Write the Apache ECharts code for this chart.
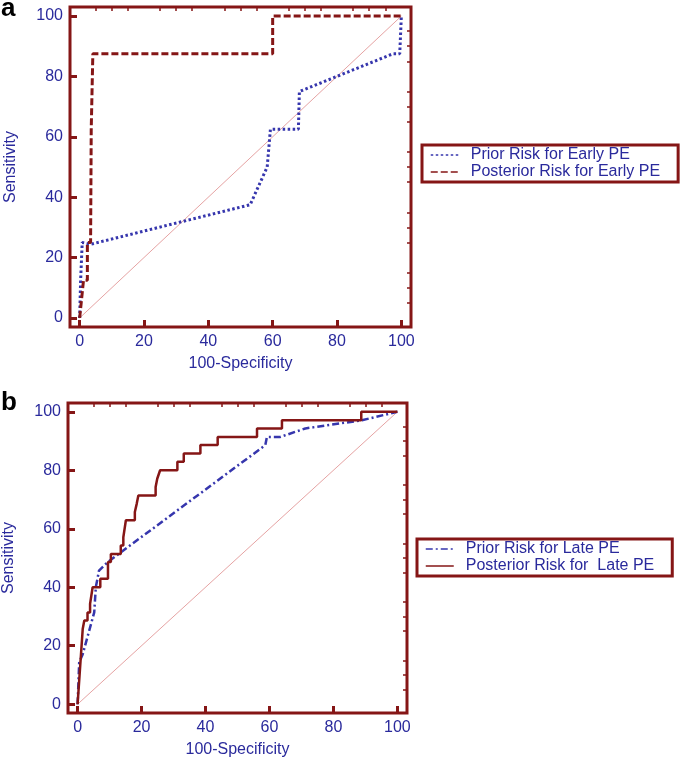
<!DOCTYPE html>
<html>
<head>
<meta charset="utf-8">
<script src="https://cdn.jsdelivr.net/npm/echarts@6/dist/echarts.min.js"></script>
<style>
  html, body { margin: 0; padding: 0; background: #fff; }
  #chart { width: 685px; height: 759px; }
</style>
</head>
<body>
<div id="chart"></div>
<script>
// ROC curves: [100-Specificity, Sensitivity]
const majorTicks = [0, 20, 40, 60, 80, 100];
const minorTicks = [5, 10, 15, 25, 30, 35, 45, 50, 55, 65, 70, 75, 85, 90, 95];
const diagonal = [[0, 0], [100, 100]];

const priorEarly = [[0, 0], [0.3, 12.5], [0.8, 25], [3.4, 24.4], [53, 37.5], [58.3, 50], [58.8, 50],
  [59.3, 62.5], [68, 62.5], [68.3, 75], [97.4, 87.5], [99.5, 87.5], [100, 100]];
const posteriorEarly = [[0, 0], [1.2, 12.5], [2.4, 12.5], [2.4, 25], [3.4, 25], [3.6, 62.5], [4.1, 87.5],
  [60, 87.5], [60, 100], [100, 100]];

const priorLate = [[0, 0], [0.5, 14.3], [1.6, 17.1], [5.2, 31.4], [5.7, 40], [6.7, 45.7], [9.4, 48.6],
  [58.7, 88.6], [59.2, 91.4], [63.4, 91.4], [71.2, 94.3], [88.9, 97.1], [100, 100]];
const posteriorLate = [[0, 0], [1.6, 25.7], [2.1, 25.7], [2.1, 28.6], [3.1, 28.6], [3.1, 31.4], [3.9, 31.4],
  [3.9, 34.3], [4.7, 40], [7.1, 40], [7.1, 42.9], [9.5, 42.9], [9.5, 48.6], [10.4, 48.6], [10.4, 51.4],
  [13.5, 51.4], [13.5, 54.3], [14.3, 54.3], [14.3, 57.1], [15.1, 62.9], [17.9, 62.9], [17.9, 65.7],
  [18.5, 65.7], [18.5, 68.6], [19, 71.4], [24.4, 71.4], [24.4, 74.3], [24.9, 74.3], [24.9, 77.1],
  [25.8, 80], [31.2, 80], [31.2, 82.9], [33.2, 82.9], [33.2, 85.7], [38.4, 85.7], [38.4, 88.6],
  [43.8, 88.6], [43.8, 91.4], [56.1, 91.4], [56.1, 94.3], [63.9, 94.3], [63.9, 97.1], [88.7, 97.1],
  [88.7, 100], [100, 100]];

const RED = '#851616';
const BLUE = '#3636ad';
const TEXT = '#2a2a9c';
const PINK = '#e6a3a3';
const FONT = 'Liberation Sans, Arial, sans-serif';

function mainAxis(kind, gridIndex, name) {
  return {
    type: 'value', gridIndex: gridIndex, min: -3, max: 103,
    name: name, nameLocation: 'middle',
    nameGap: kind === 'x' ? 29 : 51,
    nameTextStyle: { color: TEXT, fontSize: 16, fontFamily: FONT },
    axisLine: { show: false, onZero: false },
    axisTick: { show: true, inside: true, length: 7, customValues: majorTicks,
      lineStyle: { color: RED, width: 3 } },
    axisLabel: { show: true, customValues: majorTicks, margin: 7,
      color: TEXT, fontSize: 16, fontFamily: FONT },
    splitLine: { show: false }
  };
}
function minorAxis(gridIndex) {
  return {
    type: 'value', gridIndex: gridIndex, min: -3, max: 103,
    axisLine: { show: false, onZero: false },
    axisTick: { show: true, inside: true, length: 4, customValues: minorTicks,
      lineStyle: { color: RED, width: 1.5 } },
    axisLabel: { show: false },
    splitLine: { show: false }
  };
}
function legendBox(left, top, names) {
  return {
    orient: 'vertical', left: left, top: top, data: names,
    padding: [2, 18, 2, 8], itemGap: 1, itemWidth: 28, itemHeight: 10,
    borderColor: RED, borderWidth: 3, borderRadius: 0,
    itemStyle: { opacity: 0 },
    lineStyle: { width: 1.5 },
    textStyle: { color: TEXT, fontSize: 16, fontFamily: FONT, padding: [0, 0, 0, 7] }
  };
}

const chart = echarts.init(document.getElementById('chart'), null, { renderer: 'canvas' });
chart.setOption({
  animation: false,
  backgroundColor: '#fff',
  title: [
    { text: 'a', left: 1, top: -4, padding: 0,
      textStyle: { color: '#000', fontSize: 26, fontWeight: 'bold', fontFamily: FONT } },
    { text: 'b', left: 1, top: 390, padding: 0,
      textStyle: { color: '#000', fontSize: 26, fontWeight: 'bold', fontFamily: FONT } }
  ],
  grid: [
    { left: 70, top: 7, width: 341, height: 320, show: true, borderColor: RED, borderWidth: 3 },
    { left: 68, top: 403, width: 339, height: 310, show: true, borderColor: RED, borderWidth: 3 }
  ],
  xAxis: [mainAxis('x', 0, '100-Specificity'), minorAxis(0), mainAxis('x', 1, '100-Specificity'), minorAxis(1)],
  yAxis: [mainAxis('y', 0, 'Sensitivity'), minorAxis(0), mainAxis('y', 1, 'Sensitivity'), minorAxis(1)],
  legend: [
    legendBox(422, 145, ['Prior Risk for Early PE', 'Posterior Risk for Early PE']),
    legendBox(417, 539, ['Prior Risk for Late PE', 'Posterior Risk for  Late PE'])
  ],
  series: [
    { type: 'line', name: 'ref-a', xAxisIndex: 0, yAxisIndex: 0, data: diagonal, symbol: 'none',
      lineStyle: { color: PINK, width: 1 }, silent: true },
    { type: 'line', name: 'Prior Risk for Early PE', xAxisIndex: 0, yAxisIndex: 0, data: priorEarly,
      symbol: 'none', color: BLUE, lineStyle: { color: BLUE, width: 3, type: [2.5, 2.5] } },
    { type: 'line', name: 'Posterior Risk for Early PE', xAxisIndex: 0, yAxisIndex: 0, data: posteriorEarly,
      symbol: 'none', color: RED, lineStyle: { color: RED, width: 3, type: [7, 3] } },
    { type: 'line', name: 'ref-b', xAxisIndex: 2, yAxisIndex: 2, data: diagonal, symbol: 'none',
      lineStyle: { color: PINK, width: 1 }, silent: true },
    { type: 'line', name: 'Prior Risk for Late PE', xAxisIndex: 2, yAxisIndex: 2, data: priorLate,
      symbol: 'none', color: BLUE, lineStyle: { color: BLUE, width: 2.5, type: [7, 3, 2, 3] } },
    { type: 'line', name: 'Posterior Risk for  Late PE', xAxisIndex: 2, yAxisIndex: 2, data: posteriorLate,
      symbol: 'none', color: RED, lineStyle: { color: RED, width: 2.5 } }
  ]
});
</script>
</body>
</html>
